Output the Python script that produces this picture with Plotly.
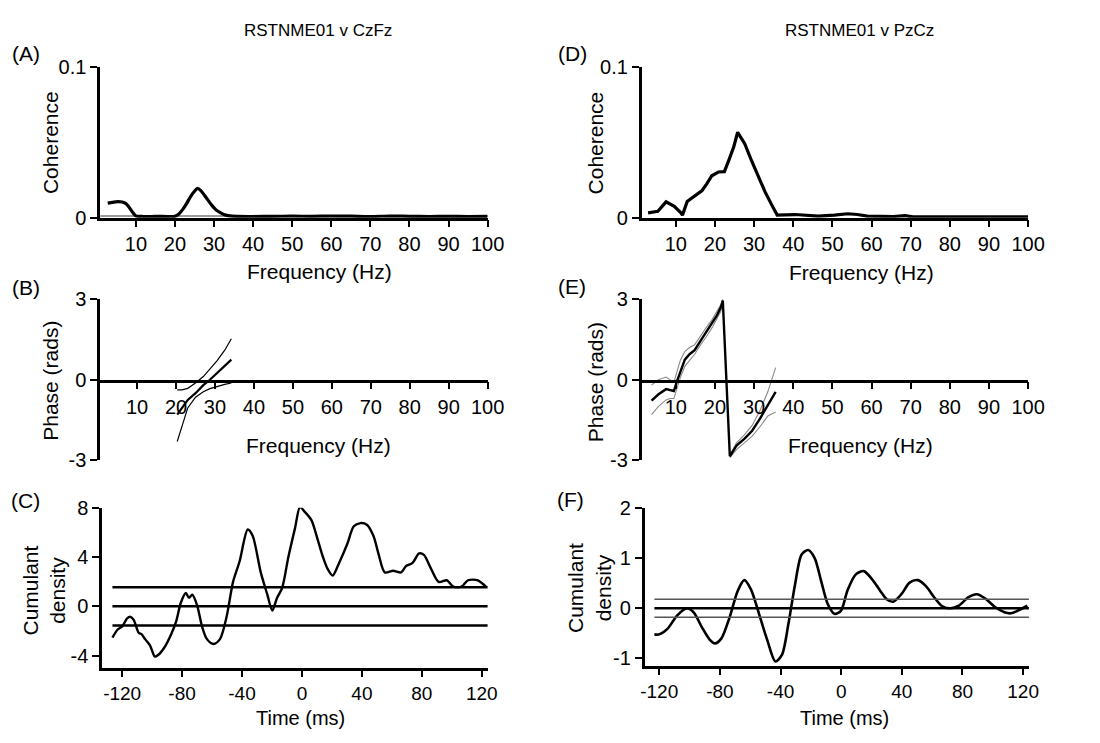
import plotly.graph_objects as go

# ---------------- data ----------------
freq_A = [2.8, 4.0, 5.3, 6.5, 7.5, 8.3, 9.2, 10.0, 12, 14, 16, 18, 20, 21, 22, 23, 24, 25, 25.8,
          26.6, 27.5, 28.5, 29.5, 30.5, 31.5, 32.5, 34, 36, 40, 45, 50, 55, 60, 65, 70, 75, 80, 85, 90, 95, 100]
coh_A = [0.0097, 0.0102, 0.0107, 0.0104, 0.0092, 0.0068, 0.0035, 0.0012, 0.0008, 0.0008, 0.0009, 0.0008,
         0.0010, 0.0025, 0.0055, 0.0095, 0.0140, 0.0175, 0.0195, 0.0180, 0.0150, 0.0115, 0.0080, 0.0052,
         0.0035, 0.0022, 0.0012, 0.0009, 0.0008, 0.0009, 0.0010, 0.0009, 0.0011, 0.0010, 0.0008, 0.0011,
         0.0009, 0.0008, 0.0009, 0.0008, 0.0009]
conf_A = 0.0012

freq_B = [20.3, 21.5, 23.0, 25.0, 27.0, 28.7, 30.5, 32.5, 34.2]
phase_B = [-1.30, -1.05, -0.75, -0.50, -0.20, 0.00, 0.25, 0.50, 0.75]
phase_B_upper = [-0.38, -0.38, -0.32, -0.12, 0.12, 0.40, 0.70, 1.10, 1.53]
phase_B_lower = [-2.30, -1.70, -1.05, -0.65, -0.45, -0.33, -0.25, -0.17, -0.12]

time_C = [-126.5, -123, -120, -116.7, -114.5, -112.3, -109, -106.9, -104.7, -101.4, -98.2, -96, -91.6,
          -87.3, -84, -80.8, -77.5, -75.4, -73.2, -69.9, -66.7, -63.4, -59, -54.7, -50.3, -46, -41.6,
          -36.2, -32.9, -27.5, -23.1, -19.8, -16.6, -13.3, -9, -4.6, -1.3, 2, 6.3, 10.7, 13.9, 17.2,
          20.5, 24.8, 30.3, 34.6, 39, 43.3, 47.7, 51, 55.3, 60.8, 66.2, 69.5, 73.8, 78.2, 81.4, 85.8,
          91.2, 96.7, 101, 106.5, 110.8, 117.4, 122.8]
cum_C = [-2.53, -1.88, -1.63, -0.98, -0.85, -1.10, -2.14, -2.27, -2.66, -3.17, -4.08, -3.95, -3.30,
         -2.27, -1.24, 0.31, 1.08, 0.70, 0.95, 0.05, -1.63, -2.66, -3.05, -2.66, -0.85, 1.99, 3.66,
         6.24, 5.73, 2.76, 0.95, -0.34, 0.70, 1.47, 4.05, 6.37, 8.05, 7.66, 7.00, 5.34, 4.05, 3.02,
         2.50, 3.53, 5.08, 6.50, 6.76, 6.63, 5.73, 4.30, 2.76, 2.89, 2.76, 3.28, 3.53, 4.30, 4.18,
         3.15, 1.99, 2.12, 1.60, 1.60, 2.12, 2.12, 1.60]
conf_C = 1.55

freq_D = [2.9, 5.4, 7.5, 9.6, 11.3, 11.7, 12.9, 14.6, 16.7, 17.9, 19.2, 20.9, 22.4, 23.6, 24.8, 25.8,
          27.6, 29.4, 31.1, 32.8, 34.5, 35.9, 40.5, 43, 46.4, 50.5, 53.9, 56.4, 58.9, 65.6, 68.5,
          70.6, 75, 80, 85, 90, 95, 100]
coh_D = [0.0032, 0.0043, 0.0105, 0.0075, 0.0032, 0.0017, 0.0107, 0.0139, 0.0180, 0.0224, 0.0278,
         0.0303, 0.0305, 0.0385, 0.0470, 0.0566, 0.0491, 0.0374, 0.0267, 0.0171, 0.0085, 0.0017,
         0.0021, 0.0017, 0.0010, 0.0017, 0.0026, 0.0021, 0.0010, 0.0008, 0.0013, 0.0006, 0.0006,
         0.0006, 0.0006, 0.0006, 0.0006, 0.0006]

freq_E = [3.8, 5.5, 7.5, 8.5, 9.5, 10.3, 11.2, 12.3, 13.5, 14.8, 16.3, 17.8, 19.3, 20.5, 21.5, 22.0,
          23.8, 25.5, 27.5, 29.5, 31.5, 33.5, 35.5]
phase_E = [-0.78, -0.55, -0.35, -0.38, -0.42, -0.05, 0.35, 0.75, 0.95, 1.10, 1.45, 1.80, 2.10, 2.40,
           2.70, 2.95, -2.85, -2.45, -2.20, -1.90, -1.45, -0.95, -0.45]
freq_E_up1 = [3.8, 5.5, 7.5, 8.5, 9.5, 10.3, 11.2, 12.3, 13.5, 14.8, 16.3, 17.8, 19.3, 20.5, 21.5, 22.0]
phase_E_up1 = [-0.20, 0.00, 0.10, 0.00, -0.10, 0.30, 0.75, 1.05, 1.20, 1.30, 1.65, 1.95, 2.25, 2.55, 2.80, 3.00]
phase_E_lo1 = [-1.30, -1.00, -0.75, -0.70, -0.70, -0.30, 0.10, 0.50, 0.70, 0.95, 1.30, 1.60, 1.95, 2.25, 2.55, 2.90]
freq_E_up2 = [23.8, 25.5, 27.5, 29.5, 31.5, 33.5, 35.5]
phase_E_up2 = [-2.80, -2.35, -2.05, -1.70, -1.15, -0.45, 0.45]
phase_E_lo2 = [-2.90, -2.60, -2.35, -2.10, -1.75, -1.35, -1.20]

time_F = [-123.2, -120, -114.6, -108.1, -101.7, -97.3, -92, -86.6, -83.3, -79, -73.6, -68.2, -63.9,
          -59.6, -54.2, -48.8, -43.4, -39.1, -34.8, -30.4, -26.1, -21.8, -17.5, -13.2, -8.8, -4.5,
          -0.2, 4.1, 9.5, 14.9, 20.3, 25.7, 30, 34.3, 39.7, 45.1, 50.5, 55.9, 61.3, 66.7, 72.1, 77.5,
          84, 89.4, 94.8, 101.2, 107.7, 112, 116.3, 122.8]
cum_F = [-0.52, -0.52, -0.41, -0.14, 0.00, -0.08, -0.37, -0.63, -0.70, -0.60, -0.18, 0.35, 0.56, 0.38,
         -0.11, -0.63, -1.06, -0.93, -0.31, 0.48, 1.07, 1.16, 1.00, 0.54, 0.08, -0.11, -0.05, 0.35,
         0.67, 0.74, 0.58, 0.35, 0.18, 0.13, 0.28, 0.51, 0.56, 0.44, 0.22, 0.04, 0.00, 0.05, 0.22,
         0.28, 0.20, 0.03, -0.08, -0.10, -0.05, 0.05]
conf_F = 0.18

freq_ticks = [10, 20, 30, 40, 50, 60, 70, 80, 90, 100]
time_ticks = [-120, -80, -40, 0, 40, 80, 120]
time_tick_text = ["-120", "-80", "-40", "0", "40", "80", "120"]
phase_ticks = [-3, 0, 3]
phase_tick_text = ["-3", "0", "3"]
coh_ticks = [0, 0.1]
coh_tick_text = ["0", "0.1"]
cumC_ticks = [-4, 0, 4, 8]
cumC_tick_text = ["-4", "0", "4", "8"]
cumF_ticks = [-1, 0, 1, 2]
cumF_tick_text = ["-1", "0", "1", "2"]

# ---------------- layout helpers ----------------
W, H = 1100, 743
def px(x):
    return x / W
def py(y):
    return 1 - y / H

FONT = "Arial, Liberation Sans, sans-serif"
TICKF = dict(family=FONT, size=20, color="black")

def ax(**kw):
    base = dict(showgrid=False, zeroline=False, showline=True, linecolor="black", linewidth=2.5,
                ticks="outside", tickcolor="black", tickwidth=2, ticklen=7, tickfont=TICKF,
                fixedrange=True)
    base.update(kw)
    return base

fig = go.Figure()

def line(x, y, xa, ya, width=3, color="black", shape="linear"):
    fig.add_trace(go.Scatter(x=x, y=y, xaxis=xa, yaxis=ya, mode="lines",
                             line=dict(color=color, width=width, shape=shape, smoothing=0.8),
                             showlegend=False, hoverinfo="skip"))

# A
line(freq_A, coh_A, "x", "y", 3.2, shape="spline")
# B
line(freq_B, phase_B_upper, "x2", "y2", 1.2)
line(freq_B, phase_B_lower, "x2", "y2", 1.2)
line(freq_B, phase_B, "x2", "y2", 2.2)
# C
line(time_C, cum_C, "x3", "y3", 2.4, shape="spline")
# D
line(freq_D, coh_D, "x4", "y4", 3.2)
# E
grey = "#8a8a8a"
line(freq_E_up1, phase_E_up1, "x5", "y5", 1.1, grey)
line(freq_E_up1, phase_E_lo1, "x5", "y5", 1.1, grey)
line(freq_E_up2, phase_E_up2, "x5", "y5", 1.1, grey)
line(freq_E_up2, phase_E_lo2, "x5", "y5", 1.1, grey)
line(freq_E, phase_E, "x5", "y5", 2.4)
# F
line(time_F, cum_F, "x6", "y6", 2.6, shape="spline")

shapes = []
shapes.append(dict(type="line", xref="x domain", yref="y", x0=0, x1=1, y0=conf_A, y1=conf_A,
                   line=dict(color="#9a9a9a", width=2), layer="below"))
for lv, w, c in [(0, 2.5, "black"), (conf_C, 2.5, "black"), (-conf_C, 2.5, "black")]:
    shapes.append(dict(type="line", xref="x3", yref="y3", x0=time_C[0], x1=time_C[-1] + 1.5,
                       y0=lv, y1=lv, line=dict(color=c, width=w)))
for lv, w, c in [(0, 2.4, "black"), (conf_F, 1.4, "#555555"), (-conf_F, 1.4, "#555555")]:
    shapes.append(dict(type="line", xref="x6", yref="y6", x0=time_F[0], x1=time_F[-1] + 1,
                       y0=lv, y1=lv, line=dict(color=c, width=w)))

ydomA = [py(213), py(57.5)]
ydomB = [py(463), py(297)]
ydomC = [py(677), py(512)]
ydomF = [py(675), py(512)]
xdomL = [px(98), px(493)]
xdomR = [px(650), px(1044)]
TICKF_T = dict(family=FONT, size=19, color="black")

layout = dict(
    width=W, height=H, margin=dict(l=0, r=0, t=0, b=0),
    paper_bgcolor="white", plot_bgcolor="rgba(0,0,0,0)",
    showlegend=False,
    xaxis=ax(domain=xdomL, range=[0.85, 100], anchor="y", tickvals=freq_ticks, ticklabelstandoff=0),
    yaxis=ax(domain=ydomA, range=[0, 0.1], anchor="x", tickvals=coh_ticks, ticktext=coh_tick_text),
    xaxis2=ax(domain=xdomL, range=[0.5, 100], anchor="free", position=py(381), tickvals=freq_ticks,
              ticklabelstandoff=1),
    yaxis2=ax(domain=ydomB, range=[-3, 3], anchor="x2", tickvals=phase_ticks, ticktext=phase_tick_text),
    xaxis3=ax(domain=[px(100), px(493)], range=[-133.4, 123.9], anchor="y3", tickvals=time_ticks,
              ticktext=time_tick_text, ticklabelstandoff=0, tickfont=TICKF_T, ticklen=6),
    yaxis3=ax(domain=ydomC, range=[-5, 8], anchor="x3", tickvals=cumC_ticks, ticktext=cumC_tick_text),
    xaxis4=ax(domain=xdomR, range=[1.25, 100], anchor="y4", tickvals=freq_ticks, ticklabelstandoff=0),
    yaxis4=ax(domain=ydomA, range=[0, 0.1], anchor="x4", tickvals=coh_ticks, ticktext=coh_tick_text),
    xaxis5=ax(domain=xdomR, range=[1.25, 100], anchor="free", position=py(381), tickvals=freq_ticks,
              ticklabelstandoff=1),
    yaxis5=ax(domain=ydomB, range=[-3, 3], anchor="x5", tickvals=phase_ticks, ticktext=phase_tick_text),
    xaxis6=ax(domain=[px(653), px(1045)], range=[-129.7, 123.9], anchor="y6", tickvals=time_ticks,
              ticktext=time_tick_text, ticklabelstandoff=0, tickfont=TICKF_T, ticklen=6),
    yaxis6=ax(domain=ydomF, range=[-1.15, 2], anchor="x6", tickvals=cumF_ticks, ticktext=cumF_tick_text),
    shapes=shapes,
)

def ann(text, x, y, size=20, angle=0):
    return dict(text=text, x=px(x), y=py(y), xref="paper", yref="paper", showarrow=False,
                xanchor="center", yanchor="middle", textangle=angle,
                font=dict(family=FONT, size=size, color="black"))

annotations = [
    ann("RSTNME01 v CzFz", 320, 20, 17),
    ann("RSTNME01 v PzCz", 872, 20, 17),
    ann("(A)", 22, 44, 21), ann("(B)", 22, 285, 21), ann("(C)", 22, 504, 21),
    ann("(D)", 580, 44, 21), ann("(E)", 579, 284, 21), ann("(F)", 578, 503, 21),
    ann("Coherence", 48, 136, 21, -90), ann("Coherence", 603, 136, 21, -90),
    ann("Phase (rads)", 48, 381, 21, -90), ann("Phase (rads)", 603, 382, 21, -90),
    ann("Cumulant<br>density", 41, 597, 21, -90), ann("Cumulant<br>density", 597, 595, 21, -90),
    ann("Frequency (Hz)", 322, 268, 21), ann("Frequency (Hz)", 321, 448, 21),
    ann("Frequency (Hz)", 874, 269, 21), ann("Frequency (Hz)", 873, 448, 21),
    ann("Time (ms)", 302, 729, 20), ann("Time (ms)", 857, 729, 20),
]
layout["annotations"] = annotations

fig.update_layout(**layout)
fig.write_html("out.html")
